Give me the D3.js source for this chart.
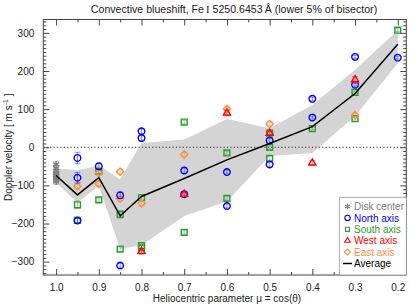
<!DOCTYPE html>
<meta charset="utf-8">
<body style="margin:0;background:white">
  <div id="chart"></div>
</body>
<script src="https://cdn.jsdelivr.net/npm/d3@7"></script>
<script>
// axis ticks
var muTicks = [1.0, 0.9, 0.8, 0.7, 0.6, 0.5, 0.4, 0.3, 0.2];
var velTicks = [-300, -200, -100, 0, 100, 200, 300];

// average curve and its grey spread
var avgMu = [1.0, 0.95, 0.9, 0.85, 0.8, 0.7, 0.6, 0.5, 0.4, 0.3, 0.2];
var avgVel = [-74, -125, -80, -180, -129, -82, -33, 10, 54, 141, 270];
var bandHigh = [-56, -60, -48, -84, 11, 20, 74, 50, 111, 203, 307];
var bandLow = [-93, -145, -101, -267, -257, -180, -142, -23, -15, 81, 220];

// single measurements
var diskMu = [1.0, 1.0, 1.0, 1.0, 1.0, 1.0, 1.0, 1.0, 1.0];
var diskVel = [-45, -55, -62, -68, -72, -76, -80, -85, -90];
var diskErr = [8, 8, 8, 8, 8, 8, 8, 8, 8];

var northMu = [0.95, 0.95, 0.95, 0.9, 0.85, 0.85, 0.8, 0.8, 0.7, 0.7, 0.6, 0.6, 0.5, 0.5, 0.4, 0.4, 0.3, 0.3, 0.2];
var northVel = [-28, -80, -192, -50, -126, -310, 42, 24, -61, -123, -65, -154, 18, -45, 127, 78, 237, 164, 235];
var northErr = [15, 14, 5, 8, 8, 5, 6, 6, 7, 7, 5, 5, 5, 5, 4, 4, 4, 4, 4];

var southMu = [0.95, 0.95, 0.9, 0.9, 0.85, 0.85, 0.8, 0.8, 0.8, 0.7, 0.7, 0.6, 0.6, 0.5, 0.5, 0.5, 0.4, 0.3, 0.3, 0.2];
var southVel = [-151, -192, -63, -138, -176, -267, -132, -258, -264, 66, -223, -15, -134, 37, 0, -29, 49, 144, 75, 307];
var southErr = [10, 6, 6, 5, 10, 6, 8, 8, 6, 5, 5, 5, 5, 5, 5, 5, 4, 4, 4, 4];

var westMu = [0.8, 0.7, 0.6, 0.5, 0.4, 0.3];
var westVel = [-273, -123, 90, 37, -41, 177];
var westErr = [8, 6, 8, 5, 6, 8];

var eastMu = [0.95, 0.9, 0.9, 0.85, 0.85, 0.8, 0.7, 0.6, 0.5, 0.3];
var eastVel = [-102, -96, -67, -64, -135, -147, -19, 100, 61, 84];
var eastErr = [8, 6, 6, 6, 6, 8, 5, 8, 5, 6];

var legendLabels = ["Disk center", "North axis", "South axis", "West axis", "East axis", "Average"];

var W = 415, H = 306;
var plot = { left: 43.3, right: 406.3, top: 19.5, bottom: 275 };

var x = d3.scaleLinear().domain([1.03, 0.18]).range([plot.left, plot.right]);
var y = d3.scaleLinear().domain([-335, 335]).range([plot.bottom, plot.top]);

var svg = d3.select('#chart').append('svg')
  .attr('width', W).attr('height', H)
  .style('font-family', 'Liberation Sans, Arial, sans-serif');

// grey spread around the average
var band = d3.area()
  .x(function (d, i) { return x(avgMu[i]); })
  .y0(function (d, i) { return y(bandLow[i]); })
  .y1(function (d, i) { return y(bandHigh[i]); });
svg.append('path').datum(avgMu).attr('d', band).attr('fill', '#d4d4d4');

// zero line
svg.append('line')
  .attr('x1', plot.left).attr('x2', plot.right)
  .attr('y1', y(0)).attr('y2', y(0))
  .attr('stroke', '#000').attr('stroke-width', 0.8).attr('stroke-dasharray', '1.2,2.2');

function series(mu, vel, err, color, symType, size) {
  var g = svg.append('g');
  var pts = mu.map(function (m, i) { return { m: m, v: vel[i], e: err[i] }; });
  var eb = g.selectAll('.eb').data(pts).enter().append('g')
    .attr('stroke', color).attr('stroke-opacity', 0.45).attr('stroke-width', 1);
  eb.append('line')
    .attr('x1', function (d) { return x(d.m); }).attr('x2', function (d) { return x(d.m); })
    .attr('y1', function (d) { return y(d.v - d.e); }).attr('y2', function (d) { return y(d.v + d.e); });
  eb.append('line')
    .attr('x1', function (d) { return x(d.m) - 3; }).attr('x2', function (d) { return x(d.m) + 3; })
    .attr('y1', function (d) { return y(d.v + d.e); }).attr('y2', function (d) { return y(d.v + d.e); });
  eb.append('line')
    .attr('x1', function (d) { return x(d.m) - 3; }).attr('x2', function (d) { return x(d.m) + 3; })
    .attr('y1', function (d) { return y(d.v - d.e); }).attr('y2', function (d) { return y(d.v - d.e); });
  g.selectAll('.pt').data(pts).enter().append('path')
    .attr('d', d3.symbol().type(symType).size(size))
    .attr('transform', function (d) { return 'translate(' + [x(d.m), y(d.v)] + ')'; })
    .attr('fill', 'none').attr('stroke', color).attr('stroke-width', 1.4);
}

var colors = { disk: '#808080', north: '#0000ff', south: '#2e9a2e', west: '#ff0000', east: '#ff8c3c' };

series(diskMu, diskVel, diskErr, colors.disk, d3.symbolAsterisk, 34);
series(southMu, southVel, southErr, colors.south, d3.symbolSquare2, 44);
series(eastMu, eastVel, eastErr, colors.east, d3.symbolDiamond2, 34);
series(northMu, northVel, northErr, colors.north, d3.symbolCircle, 34);
series(westMu, westVel, westErr, colors.west, d3.symbolTriangle2, 36);

// average
svg.append('path').datum(avgMu)
  .attr('d', d3.line().x(function (d, i) { return x(avgMu[i]); }).y(function (d, i) { return y(avgVel[i]); }))
  .attr('fill', 'none').attr('stroke', '#000').attr('stroke-width', 1.5);

// frame with inward ticks on all sides
svg.append('rect')
  .attr('x', plot.left).attr('y', plot.top)
  .attr('width', plot.right - plot.left).attr('height', plot.bottom - plot.top)
  .attr('fill', 'none').attr('stroke', '#444').attr('stroke-width', 1);

var xMinor = d3.range(0, 8).map(function (i) { return 0.95 - i * 0.1; });
var yMinor = d3.range(-330, 331, 10).filter(function (v) { return v % 100 !== 0; });

svg.append('g').attr('transform', 'translate(0,' + plot.bottom + ')')
  .call(d3.axisBottom(x).tickValues(muTicks).tickSize(-6).tickPadding(9).tickFormat(d3.format('.1f')));
svg.append('g').attr('transform', 'translate(0,' + plot.bottom + ')')
  .call(d3.axisBottom(x).tickValues(xMinor).tickSize(-3).tickFormat(''));
svg.append('g').attr('transform', 'translate(0,' + plot.top + ')')
  .call(d3.axisTop(x).tickValues(muTicks).tickSize(-6).tickFormat(''));
svg.append('g').attr('transform', 'translate(0,' + plot.top + ')')
  .call(d3.axisTop(x).tickValues(xMinor).tickSize(-3).tickFormat(''));

svg.append('g').attr('transform', 'translate(' + plot.left + ',0)')
  .call(d3.axisLeft(y).tickValues(velTicks).tickSize(-6).tickPadding(9).tickFormat(d3.format('d')));
svg.append('g').attr('transform', 'translate(' + plot.left + ',0)')
  .call(d3.axisLeft(y).tickValues(yMinor).tickSize(-3).tickFormat(''));
svg.append('g').attr('transform', 'translate(' + plot.right + ',0)')
  .call(d3.axisRight(y).tickValues(velTicks).tickSize(-6).tickFormat(''));
svg.append('g').attr('transform', 'translate(' + plot.right + ',0)')
  .call(d3.axisRight(y).tickValues(yMinor).tickSize(-3).tickFormat(''));

svg.selectAll('.domain').remove();
svg.selectAll('.tick line').attr('stroke', '#444');
svg.selectAll('.tick text').attr('font-size', 10).attr('fill', '#222')
  .attr('font-family', 'Liberation Sans, Arial, sans-serif');

// titles
var title = svg.append('text').attr('x', 234).attr('y', 12.5).attr('text-anchor', 'middle')
  .attr('font-size', 10.6).attr('fill', '#222');
title.append('tspan').text('Convective blueshift, Fe');
title.append('tspan').attr('font-family', 'Liberation Serif, serif').text('\u2009I');
title.append('tspan').text(' 5250.6453\u2009Å (lower 5% of bisector)');

svg.append('text').attr('x', 227).attr('y', 302).attr('text-anchor', 'middle')
  .attr('font-size', 10).attr('fill', '#222')
  .text('Heliocentric parameter μ = cos(θ)');

var yl = svg.append('text').attr('transform', 'translate(12,' + y(0) + ') rotate(-90)')
  .attr('text-anchor', 'middle').attr('font-size', 10).attr('fill', '#222');
yl.append('tspan').text('Doppler velocity [ m s');
yl.append('tspan').attr('font-size', 7).attr('dy', -4).text('-1');
yl.append('tspan').attr('dy', 4).text(' ]');

// legend
var leg = svg.append('g');
leg.append('rect').attr('x', 339.3).attr('y', 197.3)
  .attr('width', plot.right - 339.3).attr('height', plot.bottom - 197.3)
  .attr('fill', 'white').attr('stroke', '#999').attr('stroke-width', 0.8);
var legColors = [colors.disk, colors.north, colors.south, colors.west, colors.east, '#000'];
var legSyms = [d3.symbolAsterisk, d3.symbolCircle, d3.symbolSquare2, d3.symbolTriangle2, d3.symbolDiamond2, null];
legendLabels.forEach(function (lab, i) {
  var yy = 206.5 + i * 11.4;
  if (legSyms[i]) {
    leg.append('path').attr('d', d3.symbol().type(legSyms[i]).size(22))
      .attr('transform', 'translate(347.5,' + yy + ')')
      .attr('fill', 'none').attr('stroke', legColors[i]).attr('stroke-width', 1.1);
  } else {
    leg.append('line').attr('x1', 343).attr('x2', 352).attr('y1', yy).attr('y2', yy)
      .attr('stroke', '#000').attr('stroke-width', 1.5);
  }
  leg.append('text').attr('x', 354).attr('y', yy + 3.6)
    .attr('font-size', 10).attr('fill', legColors[i]).text(lab);
});
</script>
